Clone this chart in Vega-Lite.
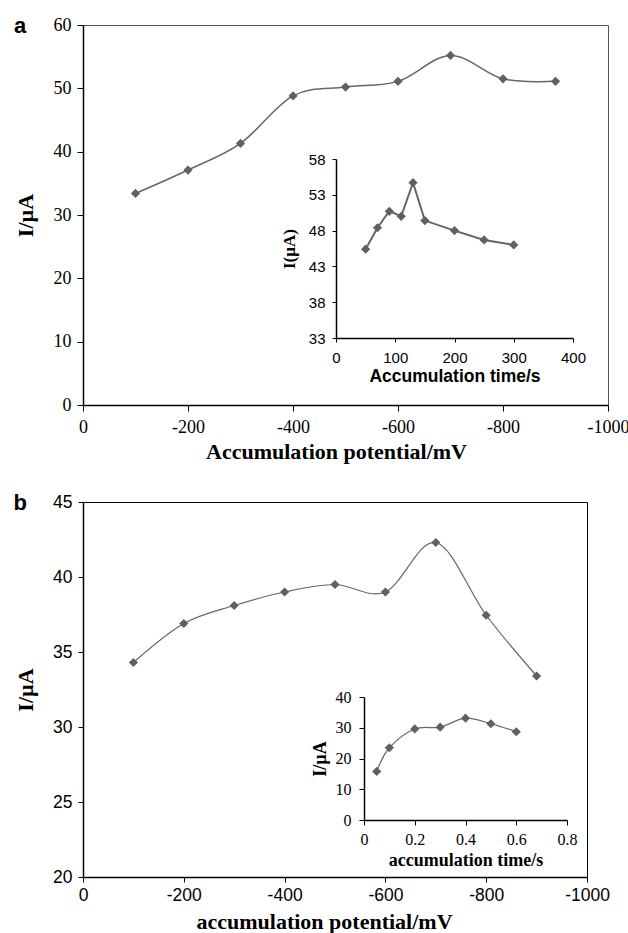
{
  "$schema": "https://vega.github.io/schema/vega-lite/v6.json",
  "padding": {"left": 13, "top": 14, "right": 5, "bottom": 0},
  "spacing": 28,
  "background": "white",
  "datasets": {
    "mainA": [
      {"potential": -100, "current": 33.4},
      {"potential": -200, "current": 37.1},
      {"potential": -300, "current": 41.3},
      {"potential": -400, "current": 48.8},
      {"potential": -500, "current": 50.2},
      {"potential": -600, "current": 51.1},
      {"potential": -700, "current": 55.2},
      {"potential": -800, "current": 51.5},
      {"potential": -900, "current": 51.1}
    ],
    "insetA": [
      {"time": 50, "current": 45.4},
      {"time": 70, "current": 48.4},
      {"time": 90, "current": 50.7},
      {"time": 110, "current": 50.0},
      {"time": 130, "current": 54.7},
      {"time": 150, "current": 49.4},
      {"time": 200, "current": 48.0},
      {"time": 250, "current": 46.7},
      {"time": 300, "current": 46.0}
    ],
    "mainB": [
      {"potential": -100, "current": 34.3},
      {"potential": -200, "current": 36.9},
      {"potential": -300, "current": 38.1},
      {"potential": -400, "current": 39.0},
      {"potential": -500, "current": 39.5},
      {"potential": -600, "current": 39.0},
      {"potential": -700, "current": 42.3},
      {"potential": -800, "current": 37.45},
      {"potential": -900, "current": 33.4}
    ],
    "insetB": [
      {"time": 0.05, "current": 15.8},
      {"time": 0.1, "current": 23.5},
      {"time": 0.2, "current": 29.6},
      {"time": 0.3, "current": 30.2},
      {"time": 0.4, "current": 33.1},
      {"time": 0.5, "current": 31.3},
      {"time": 0.6, "current": 28.7}
    ],
    "frame": [{"k": 1}]
  },
  "vconcat": [
    {
      "width": 525,
      "height": 380,
      "title": {"text": "a", "anchor": "start", "frame": "bounds", "font": "Liberation Sans", "fontSize": 22, "fontWeight": "bold", "baseline": "middle", "offset": -32, "dx": 0, "color": "#000"},
      "view": {"stroke": "#555", "strokeWidth": 1},
      "resolve": {"scale": {"x": "independent", "y": "independent"}, "axis": {"x": "independent", "y": "independent"}},
      "layer": [
        {
          "data": {"name": "mainA"},
          "encoding": {
            "x": {"field": "potential", "type": "quantitative",
              "scale": {"domain": [-1000, 0], "reverse": true, "nice": false, "zero": false},
              "axis": {"orient": "bottom", "values": [0, -200, -400, -600, -800, -1000], "labelExpr": "'' + datum.value", "grid": false, "labelFlush": false, "labelOverlap": false,
                "domainColor": "#000", "domainWidth": 1.5, "tickColor": "#000", "tickSize": 6, "labelPadding": 7,
                "labelFont": "Liberation Serif", "labelFontSize": 18, "labelColor": "#000",
                "title": "Accumulation potential/mV", "titleFont": "Liberation Serif", "titleFontSize": 22, "titleFontWeight": "bold", "titleColor": "#000", "titlePadding": 5, "titleX": 253}},
            "y": {"field": "current", "type": "quantitative",
              "scale": {"domain": [0, 60], "nice": false, "zero": false},
              "axis": {"orient": "left", "values": [0, 10, 20, 30, 40, 50, 60], "grid": false, "labelOverlap": false,
                "domainColor": "#000", "domainWidth": 1.5, "tickColor": "#000", "tickSize": 6, "labelPadding": 6,
                "labelFont": "Liberation Serif", "labelFontSize": 18, "labelColor": "#000",
                "title": "I/µA", "titleFont": "Liberation Serif", "titleFontSize": 22, "titleFontWeight": "bold", "titleColor": "#000", "titlePadding": 16}}
          },
          "layer": [
            {"mark": {"type": "line", "interpolate": "cardinal", "color": "#666", "strokeWidth": 1.5}},
            {"mark": {"type": "point", "shape": "diamond", "filled": true, "size": 85, "color": "#606060", "opacity": 1}}
          ]
        },
        {
          "encoding": {
            "x": {"field": "time", "type": "quantitative",
              "scale": {"domain": [0, 400], "range": [253, 490], "nice": false, "zero": false},
              "axis": {"orient": "bottom", "offset": -67, "values": [0, 100, 200, 300, 400], "grid": false, "labelFlush": false, "labelOverlap": false,
                "domainColor": "#000", "domainWidth": 1.5, "tickColor": "#000", "tickSize": 4, "labelPadding": 8,
                "labelFont": "Liberation Sans", "labelFontSize": 15, "labelColor": "#000",
                "title": "Accumulation time/s", "titleFont": "Liberation Sans", "titleFontSize": 17.5, "titleFontWeight": "bold", "titleColor": "#000", "titlePadding": 2}},
            "y": {"field": "current", "type": "quantitative",
              "scale": {"domain": [33, 58], "range": [313, 134], "nice": false, "zero": false},
              "axis": {"orient": "left", "offset": -253, "values": [33, 38, 43, 48, 53, 58], "grid": false, "labelOverlap": false,
                "domainColor": "#000", "domainWidth": 1.5, "tickColor": "#000", "tickSize": 4, "labelPadding": 7,
                "labelFont": "Liberation Sans", "labelFontSize": 15, "labelColor": "#000",
                "title": "I(µA)", "titleFont": "Liberation Serif", "titleFontSize": 17, "titleFontWeight": "bold", "titleColor": "#000", "titlePadding": 10}}
          },
          "layer": [
            {"data": {"name": "frame"},
             "mark": {"type": "rect", "fill": "transparent", "stroke": "#000", "strokeWidth": 1.5},
             "encoding": {"x": {"datum": 0}, "x2": {"datum": 400}, "y": {"datum": 33}, "y2": {"datum": 58}}},
            {"data": {"name": "insetA"}, "mark": {"type": "line", "interpolate": "linear", "color": "#666", "strokeWidth": 2}},
            {"data": {"name": "insetA"}, "mark": {"type": "point", "shape": "diamond", "filled": true, "size": 85, "color": "#606060", "opacity": 1}}
          ]
        }
      ]
    },
    {
      "width": 504,
      "height": 375,
      "title": {"text": "b", "anchor": "start", "frame": "bounds", "font": "Liberation Sans", "fontSize": 22, "fontWeight": "bold", "baseline": "middle", "offset": -32, "dx": -1, "color": "#000"},
      "view": {"stroke": "#000", "strokeWidth": 1},
      "resolve": {"scale": {"x": "independent", "y": "independent"}, "axis": {"x": "independent", "y": "independent"}},
      "layer": [
        {
          "data": {"name": "mainB"},
          "encoding": {
            "x": {"field": "potential", "type": "quantitative",
              "scale": {"domain": [-1000, 0], "reverse": true, "nice": false, "zero": false},
              "axis": {"orient": "bottom", "values": [0, -200, -400, -600, -800, -1000], "labelExpr": "'' + datum.value", "grid": false, "labelFlush": false, "labelOverlap": false,
                "domainColor": "#000", "domainWidth": 1.5, "tickColor": "#000", "tickSize": 5, "labelPadding": 4,
                "labelFont": "Liberation Sans", "labelFontSize": 17.5, "labelColor": "#000",
                "title": "accumulation potential/mV", "titleFont": "Liberation Serif", "titleFontSize": 22, "titleFontWeight": "bold", "titleColor": "#000", "titlePadding": 8, "titleX": 241}},
            "y": {"field": "current", "type": "quantitative",
              "scale": {"domain": [20, 45], "nice": false, "zero": false},
              "axis": {"orient": "left", "values": [20, 25, 30, 35, 40, 45], "grid": false, "labelOverlap": false,
                "domainColor": "#000", "domainWidth": 1.5, "tickColor": "#000", "tickSize": 5, "labelPadding": 6,
                "labelFont": "Liberation Sans", "labelFontSize": 17.5, "labelColor": "#000",
                "title": "I/µA", "titleFont": "Liberation Serif", "titleFontSize": 22, "titleFontWeight": "bold", "titleColor": "#000", "titlePadding": 15}}
          },
          "layer": [
            {"mark": {"type": "line", "interpolate": "cardinal", "color": "#666", "strokeWidth": 1.2}},
            {"mark": {"type": "point", "shape": "diamond", "filled": true, "size": 85, "color": "#606060", "opacity": 1}}
          ]
        },
        {
          "encoding": {
            "x": {"field": "time", "type": "quantitative",
              "scale": {"domain": [0, 0.8], "range": [281, 484], "nice": false, "zero": false},
              "axis": {"orient": "bottom", "offset": -57, "values": [0, 0.2, 0.4, 0.6, 0.8], "labelExpr": "'' + datum.value", "grid": false, "labelFlush": false, "labelOverlap": false,
                "domainColor": "#000", "domainWidth": 1.5, "tickColor": "#000", "tickSize": 5, "labelPadding": 6,
                "labelFont": "Liberation Serif", "labelFontSize": 16, "labelColor": "#000",
                "title": "accumulation time/s", "titleFont": "Liberation Serif", "titleFontSize": 18, "titleFontWeight": "bold", "titleColor": "#000", "titlePadding": 4}},
            "y": {"field": "current", "type": "quantitative",
              "scale": {"domain": [0, 40], "range": [318, 195], "nice": false, "zero": false},
              "axis": {"orient": "left", "offset": -281, "values": [0, 10, 20, 30, 40], "grid": false, "labelOverlap": false,
                "domainColor": "#000", "domainWidth": 1.5, "tickColor": "#000", "tickSize": 5, "labelPadding": 8,
                "labelFont": "Liberation Serif", "labelFontSize": 16, "labelColor": "#000",
                "title": "I/µA", "titleFont": "Liberation Serif", "titleFontSize": 18, "titleFontWeight": "bold", "titleColor": "#000", "titlePadding": 6}}
          },
          "layer": [
            {"data": {"name": "frame"},
             "mark": {"type": "rect", "fill": "transparent", "stroke": "#000", "strokeWidth": 1.5},
             "encoding": {"x": {"datum": 0}, "x2": {"datum": 0.8}, "y": {"datum": 0}, "y2": {"datum": 40}}},
            {"data": {"name": "insetB"}, "mark": {"type": "line", "interpolate": "cardinal", "color": "#666", "strokeWidth": 1.2}},
            {"data": {"name": "insetB"}, "mark": {"type": "point", "shape": "diamond", "filled": true, "size": 85, "color": "#606060", "opacity": 1}}
          ]
        }
      ]
    }
  ]
}
